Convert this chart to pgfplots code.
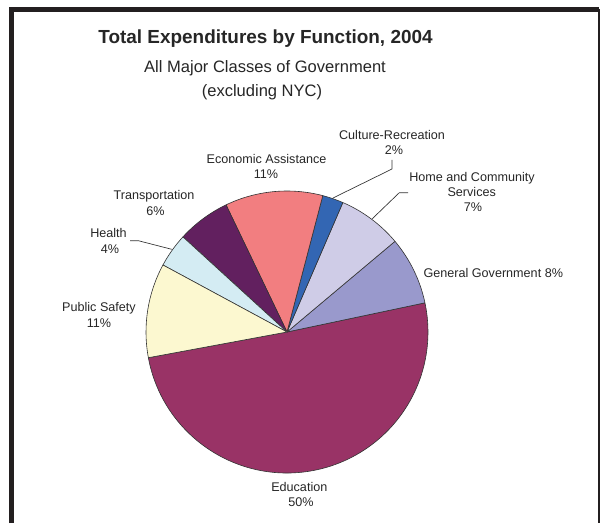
\documentclass[border=0pt]{standalone}
\usepackage{pgfplots}
\usepackage{pgfplotstable}
\pgfplotsset{compat=1.18}
\usepackage{fontspec}
\setmainfont{Liberation Sans}
\definecolor{cEdu}{HTML}{993366}
\definecolor{cGG}{HTML}{9999CC}
\definecolor{cHome}{HTML}{CFCCE7}
\definecolor{cCult}{HTML}{3366B3}
\definecolor{cEcon}{HTML}{F27E80}
\definecolor{cTrans}{HTML}{62205F}
\definecolor{cHealth}{HTML}{D4ECF3}
\definecolor{cPS}{HTML}{FCF8D0}
\definecolor{frame}{HTML}{231F20}
\definecolor{txt}{HTML}{262626}
% pie shares (percent), counter-clockwise from the left edge of Education
\pgfplotstableread[col sep=comma]{
label,value,color
Education,50.4,cEdu
General Government,7.8,cGG
Home and Community Services,7.4,cHome
Culture-Recreation,2.4,cCult
Economic Assistance,11.2,cEcon
Transportation,6.1,cTrans
Health,3.9,cHealth
Public Safety,10.8,cPS
}\piedata
\newcommand\lab{\fontsize{9.45}{11}\selectfont}
\begin{document}
\begin{tikzpicture}
\begin{axis}[
  x=0.75pt, y=0.75pt, y dir=reverse,
  xmin=0, xmax=603, ymin=0, ymax=523,
  enlargelimits=false, hide axis, clip=false,
]
\path (axis cs:0,0) rectangle (axis cs:603,523);
% frame
\addplot[frame, line width=3.75pt, line join=miter] coordinates {(11.5,523) (11.5,9.5) (599,9.5)};
\addplot[frame, line width=2pt] coordinates {(599,9.5) (599,523)};
% pie
\pgfplotstablegetrowsof{\piedata}
\pgfmathtruncatemacro\N{\pgfplotsretval-1}
\def\cum{190.5}
\pgfplotsforeachungrouped \i in {0,...,\N}{
  \pgfplotstablegetelem{\i}{value}\of\piedata \let\v\pgfplotsretval
  \pgfplotstablegetelem{\i}{color}\of\piedata \let\c\pgfplotsretval
  \pgfmathsetmacro\a{\cum}
  \pgfmathsetmacro\b{\cum+3.6*\v}
  \pgfmathsetmacro\px{287+141*cos(\a)}
  \pgfmathsetmacro\py{332-141*sin(\a)}
  \edef\temp{\noexpand\filldraw[fill=\c, draw=black!80, line width=0.45pt, line join=round] (axis cs:287,332) -- (axis cs:\px,\py) arc[start angle=\a, end angle=\b, radius=105.75pt] -- cycle;}
  \temp
  \let\cum\b
}
% leader lines
\addplot[black!80, line width=0.5pt] coordinates {(333,198) (392,169) (392,160)};
\addplot[black!80, line width=0.5pt] coordinates {(372,219) (399.3,192.7) (408,192.7)};
\addplot[black!80, line width=0.5pt] coordinates {(171.7,249.3) (138.3,240.7) (130,240.7)};
% titles
\node[anchor=base, text=txt, font=\fontsize{14.2}{16}\selectfont\bfseries] at (axis cs:265.5,44) {Total Expenditures by Function, 2004};
\node[anchor=base, text=txt, font=\fontsize{12.4}{14}\selectfont] at (axis cs:265,72.5) {All Major Classes of Government};
\node[anchor=base, text=txt, font=\fontsize{12.4}{14}\selectfont] at (axis cs:262,97) {(excluding NYC)};
% slice labels
\node[anchor=base, text=txt, font=\lab] at (axis cs:392,139.3) {Culture-Recreation};
\node[anchor=base, text=txt, font=\lab] at (axis cs:394,154.3) {2\%};
\node[anchor=base, text=txt, font=\lab] at (axis cs:266.5,164) {Economic Assistance};
\node[anchor=base, text=txt, font=\lab] at (axis cs:266,179) {11\%};
\node[anchor=base, text=txt, font=\lab] at (axis cs:472,181.7) {Home and Community};
\node[anchor=base, text=txt, font=\lab] at (axis cs:471.7,196.7) {Services};
\node[anchor=base, text=txt, font=\lab] at (axis cs:473,211.7) {7\%};
\node[anchor=base, text=txt, font=\lab] at (axis cs:493.3,277.3) {General Government 8\%};
\node[anchor=base, text=txt, font=\lab] at (axis cs:154,199.5) {Transportation};
\node[anchor=base, text=txt, font=\lab] at (axis cs:155.5,215.7) {6\%};
\node[anchor=base, text=txt, font=\lab] at (axis cs:108.5,237.7) {Health};
\node[anchor=base, text=txt, font=\lab] at (axis cs:110,253.3) {4\%};
\node[anchor=base, text=txt, font=\lab] at (axis cs:99,311.7) {Public Safety};
\node[anchor=base, text=txt, font=\lab] at (axis cs:99,327.7) {11\%};
\node[anchor=base, text=txt, font=\lab] at (axis cs:299.3,491.3) {Education};
\node[anchor=base, text=txt, font=\lab] at (axis cs:301,506) {50\%};
\end{axis}
\end{tikzpicture}
\end{document}
